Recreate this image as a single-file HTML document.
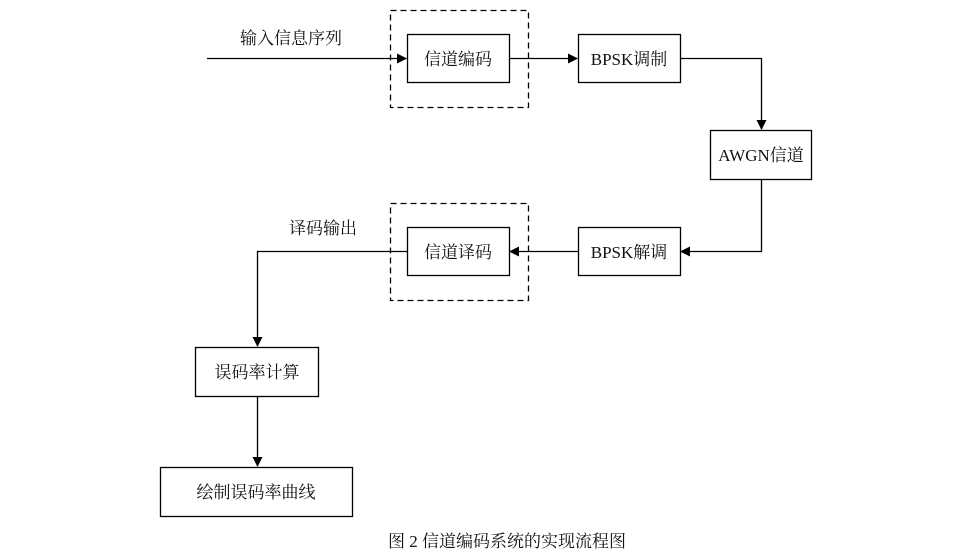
<!DOCTYPE html>
<html><head><meta charset="utf-8"><style>
body{margin:0;background:#fff;}
svg text{font-family:"Liberation Serif","Noto Serif CJK SC",serif;font-size:17px;fill:#111;}
</style></head><body>
<svg width="980" height="553" xmlns="http://www.w3.org/2000/svg">
<defs><marker id="a" markerWidth="10" markerHeight="10" refX="9" refY="5" orient="auto" markerUnits="userSpaceOnUse"><path d="M0,0 L10,5 L0,10 z" fill="#000"/></marker></defs>
<g fill="none" stroke="#000" stroke-width="1.3">
<rect x="390.5" y="10.5" width="138" height="97" stroke-dasharray="6,4"/>
<rect x="390.5" y="203.5" width="138" height="97" stroke-dasharray="6,4"/>
<rect x="407.5" y="34.5" width="102" height="48"/>
<rect x="578.5" y="34.5" width="102" height="48"/>
<rect x="710.5" y="130.5" width="101" height="49"/>
<rect x="578.5" y="227.5" width="102" height="48"/>
<rect x="407.5" y="227.5" width="102" height="48"/>
<rect x="195.5" y="347.5" width="123" height="49"/>
<rect x="160.5" y="467.5" width="192" height="49"/>
<path d="M207,58.5 H406" marker-end="url(#a)"/>
<path d="M509,58.5 H577" marker-end="url(#a)"/>
<path d="M680,58.5 H761.5 V129" marker-end="url(#a)"/>
<path d="M761.5,179 V251.5 H681" marker-end="url(#a)"/>
<path d="M578,251.5 H510" marker-end="url(#a)"/>
<path d="M407,251.5 H257.5 V346" marker-end="url(#a)"/>
<path d="M257.5,396 V466" marker-end="url(#a)"/>
</g>
<text x="240" y="44">输入信息序列</text>
<text x="458" y="65" text-anchor="middle">信道编码</text>
<text x="629" y="65" text-anchor="middle">BPSK调制</text>
<text x="761" y="161" text-anchor="middle">AWGN信道</text>
<text x="629" y="258" text-anchor="middle">BPSK解调</text>
<text x="458" y="258" text-anchor="middle">信道译码</text>
<text x="289" y="234">译码输出</text>
<text x="257" y="378" text-anchor="middle">误码率计算</text>
<text x="256" y="498" text-anchor="middle">绘制误码率曲线</text>
<text x="507" y="547" text-anchor="middle">图 2  信道编码系统的实现流程图</text>
</svg>
</body></html>
